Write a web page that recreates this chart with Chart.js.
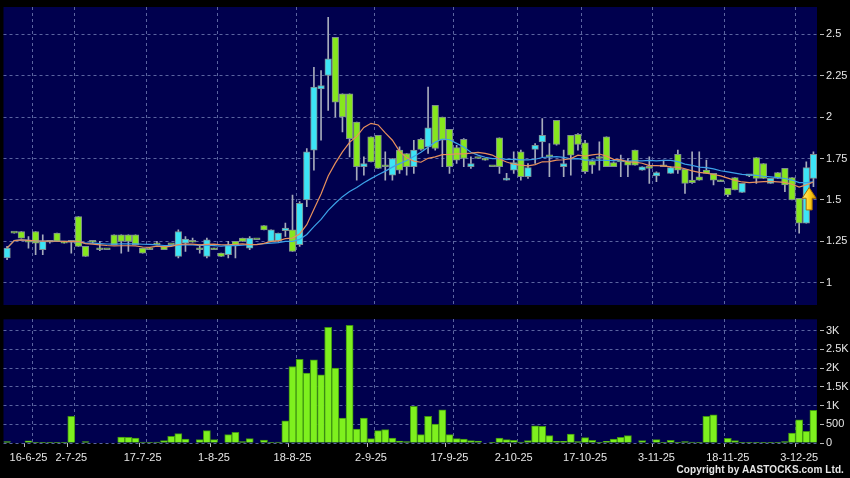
<!DOCTYPE html>
<html>
    <head>
        <title>AASTOCKS daily chart</title>
        <meta charset="UTF-8">
        <script src="https://cdn.jsdelivr.net/npm/chart.js@4.4.1/dist/chart.umd.min.js"></script>
        <style>
            body { margin: 0; background: #000; }
            #wrap { position: relative; width: 850px; height: 478px; background: #000; overflow: hidden; }
            #priceChart { position: absolute; left: 0; top: 0; }
            #volChart { position: absolute; left: 0; top: 312px; }
            #copy { position: absolute; right: 6px; top: 464px; font: bold 10px Arial, "Liberation Sans", sans-serif; color: #e6e6e6; letter-spacing: 0.1px; }
        </style>
    </head>
    <body>
        <div id="wrap">
            <canvas id="priceChart" width="850" height="312"></canvas>
            <canvas id="volChart" width="850" height="166"></canvas>
            <div id="copy">Copyright by AASTOCKS.com Ltd.</div>
        </div>
        <script>
            // daily candles, one per trading day
            const openPrices = [
                1.15, 1.30, 1.31, 1.245, 1.31, 1.20, 1.245, 1.30, 1.24, 1.245,
                1.40, 1.22, 1.245, 1.20, 1.20, 1.29, 1.29, 1.29, 1.29, 1.21,
                1.21, 1.23, 1.22, 1.23, 1.16, 1.24, 1.245, 1.20, 1.16, 1.21,
                1.18, 1.17, 1.25, 1.27, 1.21, 1.26, 1.345, 1.25, 1.255, 1.315,
                1.32, 1.23, 1.50, 1.80, 2.17, 2.25, 2.48, 2.14, 2.14, 1.97,
                1.70, 1.88, 1.89, 1.70, 1.65, 1.80, 1.78, 1.70, 1.865, 1.82,
                2.07, 2.00, 1.925, 1.815, 1.865, 1.70, 1.75, 1.75, 1.70, 1.875,
                1.62, 1.68, 1.79, 1.64, 1.805, 1.85, 1.76, 1.98, 1.70, 1.89,
                1.895, 1.845, 1.735, 1.75, 1.88, 1.725, 1.73, 1.735, 1.80, 1.68,
                1.69, 1.645, 1.70, 1.66, 1.775, 1.685, 1.62, 1.64, 1.68, 1.66,
                1.62, 1.57, 1.635, 1.545, 1.645, 1.755, 1.72, 1.60, 1.665, 1.69,
                1.635, 1.51, 1.36, 1.63
            ];
            const highPrices = [
                1.22, 1.30, 1.31, 1.28, 1.31, 1.29, 1.25, 1.30, 1.25, 1.25,
                1.40, 1.22, 1.25, 1.25, 1.20, 1.29, 1.29, 1.29, 1.29, 1.21,
                1.21, 1.25, 1.22, 1.23, 1.32, 1.28, 1.27, 1.23, 1.27, 1.21,
                1.18, 1.25, 1.25, 1.27, 1.28, 1.26, 1.345, 1.32, 1.30, 1.36,
                1.53, 1.49, 1.81, 2.30, 2.28, 2.60, 2.48, 2.14, 2.14, 1.97,
                1.76, 1.88, 1.89, 1.79, 1.75, 1.82, 1.78, 1.86, 1.87, 2.18,
                2.07, 2.00, 1.925, 1.83, 1.87, 1.76, 1.75, 1.75, 1.70, 1.875,
                1.66, 1.79, 1.80, 1.72, 1.84, 1.99, 1.84, 1.98, 1.80, 1.89,
                1.90, 1.86, 1.74, 1.85, 1.88, 1.73, 1.77, 1.75, 1.80, 1.70,
                1.76, 1.67, 1.74, 1.70, 1.80, 1.685, 1.79, 1.79, 1.74, 1.66,
                1.62, 1.57, 1.635, 1.60, 1.65, 1.755, 1.72, 1.63, 1.665, 1.69,
                1.635, 1.51, 1.73, 1.79
            ];
            const lowPrices = [
                1.14, 1.30, 1.27, 1.21, 1.17, 1.17, 1.24, 1.25, 1.24, 1.18,
                1.22, 1.16, 1.24, 1.195, 1.20, 1.23, 1.18, 1.19, 1.23, 1.18,
                1.20, 1.23, 1.20, 1.23, 1.15, 1.19, 1.245, 1.18, 1.15, 1.20,
                1.16, 1.15, 1.15, 1.25, 1.20, 1.26, 1.32, 1.25, 1.25, 1.28,
                1.19, 1.22, 1.46, 1.68, 1.86, 2.04, 2.00, 1.91, 1.76, 1.62,
                1.65, 1.73, 1.69, 1.62, 1.62, 1.66, 1.65, 1.66, 1.80, 1.78,
                1.80, 1.70, 1.66, 1.72, 1.70, 1.69, 1.75, 1.74, 1.70, 1.66,
                1.62, 1.66, 1.62, 1.63, 1.72, 1.76, 1.64, 1.83, 1.64, 1.65,
                1.80, 1.66, 1.66, 1.68, 1.70, 1.70, 1.64, 1.64, 1.71, 1.68,
                1.60, 1.61, 1.70, 1.66, 1.66, 1.54, 1.60, 1.62, 1.66, 1.59,
                1.61, 1.52, 1.56, 1.545, 1.64, 1.60, 1.63, 1.60, 1.63, 1.55,
                1.50, 1.30, 1.36, 1.58
            ];
            const closePrices = [
                1.21, 1.30, 1.27, 1.245, 1.24, 1.25, 1.245, 1.25, 1.24, 1.245,
                1.22, 1.16, 1.245, 1.20, 1.20, 1.23, 1.25, 1.25, 1.23, 1.18,
                1.20, 1.23, 1.20, 1.23, 1.31, 1.265, 1.245, 1.20, 1.26, 1.20,
                1.16, 1.23, 1.23, 1.25, 1.27, 1.26, 1.32, 1.32, 1.30, 1.33,
                1.19, 1.48, 1.79, 2.18, 2.19, 2.35, 2.09, 2.00, 1.87, 1.70,
                1.72, 1.73, 1.69, 1.70, 1.75, 1.68, 1.70, 1.80, 1.805, 1.935,
                1.81, 1.86, 1.70, 1.74, 1.75, 1.72, 1.75, 1.74, 1.70, 1.70,
                1.63, 1.725, 1.64, 1.695, 1.83, 1.89, 1.76, 1.835, 1.72, 1.77,
                1.835, 1.67, 1.71, 1.75, 1.70, 1.70, 1.73, 1.71, 1.71, 1.70,
                1.69, 1.665, 1.70, 1.695, 1.68, 1.60, 1.605, 1.62, 1.66, 1.62,
                1.61, 1.53, 1.56, 1.60, 1.645, 1.63, 1.63, 1.63, 1.63, 1.59,
                1.50, 1.36, 1.695, 1.775
            ];
            const volumes = [
                35, 0, 0, 60, 10, 10, 5, 5, 10, 710,
                0, 35, 0, 0, 0, 0, 160, 150, 133, 27,
                5, 27, 62, 177, 248, 106, 0, 89, 328, 89,
                0, 222, 284, 35, 115, 0, 80, 10, 27, 594,
                2040, 2235, 1863, 2218, 1818, 3087, 1996, 665, 3140, 373,
                665, 115, 328, 355, 133, 53, 35, 976, 222, 710,
                505, 887, 222, 115, 106, 62, 53, 0, 5, 133,
                89, 71, 27, 62, 461, 444, 195, 44, 44, 240,
                35, 142, 71, 9, 44, 106, 150, 195, 0, 62,
                0, 89, 5, 71, 5, 35, 27, 9, 710, 754,
                0, 124, 62, 9, 5, 5, 5, 9, 5, 35,
                266, 621, 310, 869
            ];

            // date labels and where they sit on the day axis
            const tickLabels = ['16-6-25', '2-7-25', '17-7-25', '1-8-25', '18-8-25', '2-9-25',
                '17-9-25', '2-10-25', '17-10-25', '3-11-25', '18-11-25', '3-12-25'];
            const labelIndex = [3, 9, 19, 29, 40, 51, 62, 71, 81, 91, 101, 111];
            const gridIndex = [4, 10, 20, 30, 41, 52, 63, 72, 81, 91, 101, 111];

            // value axes
            const priceTickValues = [1, 1.25, 1.5, 1.75, 2, 2.25, 2.5];
            const volTickValues = [0, 500, 1000, 1500, 2000, 2500, 3000];
            const priceRange = [0.867, 2.663];
            const volRange = [0, 3300];

            // yellow signal arrow near the last candles
            const arrowAt = 112.4, arrowTop = 1.575, arrowBottom = 1.44;

            const days = openPrices.map((o, i) => {
                const k = labelIndex.indexOf(i);
                return k >= 0 ? tickLabels[k] : '';
            });

            const NAVY = '#00004e';
            const GRID = '#5b64a0';
            const UP = '#3ce4f6';
            const DOWN = '#86e61e';
            const FONT = { family: 'Arial, "Liberation Sans", sans-serif', size: 11 };

            function sma(values, n) {
                return values.map((v, i) => {
                    const win = values.slice(Math.max(0, i - n + 1), i + 1);
                    return win.reduce((a, b) => a + b, 0) / win.length;
                });
            }

            const plotBg = {
                id: 'plotBg',
                beforeDraw(chart) {
                    const a = chart.chartArea, c = chart.ctx;
                    c.save();
                    c.fillStyle = NAVY;
                    c.fillRect(a.left, a.top, a.right - a.left, a.bottom - a.top);
                    c.restore();
                }
            };

            const arrowMark = {
                id: 'arrowMark',
                afterDatasetsDraw(chart) {
                    const x = chart.scales.x.getPixelForValue(arrowAt);
                    const yTop = chart.scales.y.getPixelForValue(arrowTop);
                    const yBot = chart.scales.y.getPixelForValue(arrowBottom);
                    const head = (yBot - yTop) * 0.48, hw = 7, sw = 3;
                    const c = chart.ctx;
                    c.save();
                    const g = c.createLinearGradient(x - hw, 0, x + hw, 0);
                    g.addColorStop(0, '#fff38a');
                    g.addColorStop(0.5, '#ffd21e');
                    g.addColorStop(1, '#d89a00');
                    c.beginPath();
                    c.moveTo(x, yTop);
                    c.lineTo(x + hw, yTop + head);
                    c.lineTo(x + sw, yTop + head);
                    c.lineTo(x + sw, yBot);
                    c.lineTo(x - sw, yBot);
                    c.lineTo(x - sw, yTop + head);
                    c.lineTo(x - hw, yTop + head);
                    c.closePath();
                    c.fillStyle = g;
                    c.fill();
                    c.strokeStyle = '#a87000';
                    c.lineWidth = 1;
                    c.stroke();
                    c.restore();
                }
            };

            function gridAxis(pos) {
                return {
                    type: 'category',
                    position: pos,
                    offset: true,
                    grid: {
                        offset: true,
                        drawTicks: false,
                        color: ctx => gridIndex.includes(ctx.index) ? GRID : 'transparent'
                    },
                    border: { display: false, dash: [3, 3] },
                    ticks: { display: false, autoSkip: false },
                    afterFit: s => { s.height = 0; s.paddingLeft = 0; s.paddingRight = 0; }
                };
            }

            function valueAxis(range, tickValues, fmt) {
                return {
                    position: 'right',
                    min: range[0],
                    max: range[1],
                    afterBuildTicks: s => { s.ticks = tickValues.map(v => ({ value: v })); },
                    grid: {
                        color: GRID,
                        tickLength: 7,
                        tickColor: '#b8b8b8',
                        tickBorderDash: [0, 3, 4, 40]
                    },
                    border: { display: false, dash: [3, 3] },
                    ticks: {
                        color: '#e6e6e6',
                        font: FONT,
                        padding: 2,
                        callback: fmt
                    },
                    afterFit: s => { s.width = 33; s.paddingTop = 0; s.paddingBottom = 0; }
                };
            }

            Chart.defaults.animation = false;

            new Chart(document.getElementById('priceChart'), {
                type: 'bar',
                data: {
                    labels: days,
                    datasets: [
                        {
                            type: 'line',
                            data: sma(closePrices, 10),
                            borderColor: '#e8905c',
                            borderWidth: 1.2,
                            pointRadius: 0,
                            order: 0
                        },
                        {
                            type: 'line',
                            data: sma(closePrices, 20),
                            borderColor: '#3ca2e8',
                            borderWidth: 1.2,
                            pointRadius: 0,
                            order: 0
                        },
                        {
                            data: openPrices.map((o, i) => [o, closePrices[i]]),
                            backgroundColor: openPrices.map((o, i) => closePrices[i] > o ? UP : DOWN),
                            borderColor: '#7f8e90',
                            borderWidth: 1,
                            borderSkipped: false,
                            barThickness: 6.6,
                            minBarLength: 2,
                            grouped: false,
                            order: 1
                        },
                        {
                            data: lowPrices.map((l, i) => [l, highPrices[i]]),
                            backgroundColor: '#a6abbb',
                            borderWidth: 0,
                            barThickness: 1,
                            grouped: false,
                            order: 2
                        }
                    ]
                },
                options: {
                    responsive: false,
                    layout: { padding: { left: 3.5, top: 7, right: 0, bottom: 7 } },
                    plugins: { legend: { display: false }, tooltip: { enabled: false } },
                    scales: {
                        x: gridAxis('bottom'),
                        y: valueAxis(priceRange, priceTickValues, v => String(v))
                    }
                },
                plugins: [plotBg, arrowMark]
            });

            const xLabels = {
                type: 'category',
                position: 'bottom',
                offset: true,
                grid: {
                    drawOnChartArea: false,
                    drawTicks: true,
                    tickLength: 4,
                    tickColor: ctx => labelIndex.includes(ctx.index) ? '#b8b8b8' : 'transparent'
                },
                border: { display: false },
                ticks: {
                    autoSkip: false,
                    maxRotation: 0,
                    color: '#e6e6e6',
                    font: FONT,
                    padding: 4,
                    callback: (v, i) => days[i]
                },
                afterFit: s => { s.height = 35; s.paddingLeft = 0; s.paddingRight = 0; }
            };

            new Chart(document.getElementById('volChart'), {
                type: 'bar',
                data: {
                    labels: days,
                    datasets: [{
                        data: volumes,
                        backgroundColor: '#7ef01e',
                        borderColor: '#3f9412',
                        borderWidth: 1,
                        barPercentage: 1,
                        categoryPercentage: 1
                    }]
                },
                options: {
                    responsive: false,
                    layout: { padding: { left: 3.5, top: 7.3, right: 0, bottom: 0 } },
                    plugins: { legend: { display: false }, tooltip: { enabled: false } },
                    scales: {
                        x: xLabels,
                        xg: gridAxis('top'),
                        y: valueAxis(volRange, volTickValues, v => v >= 1000 ? (v / 1000) + 'K' : String(v))
                    }
                },
                plugins: [plotBg]
            });
        </script>
    </body>
</html>
